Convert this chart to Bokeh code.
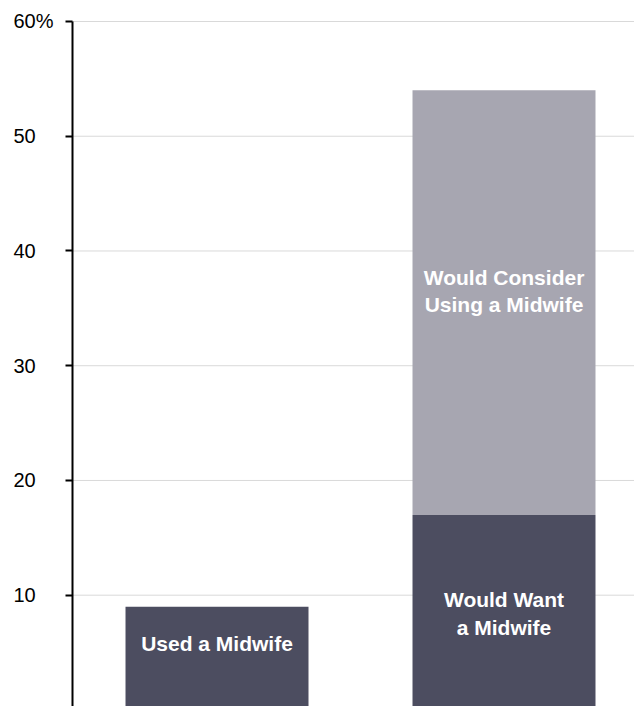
from bokeh.plotting import figure
from bokeh.models import Range1d, FixedTicker
from bokeh.core.properties import value
from bokeh.embed import file_html
from bokeh.resources import INLINE

# ---- data ----
bar_x = [1, 2]
bar_labels = ["Used a Midwife", "Would Want\na Midwife"]
dark_values = [9, 17]            # used / would want
light_values = [0, 37]           # would consider (stacked above, total 54)
light_label = "Would Consider\nUsing a Midwife"
tick_values = [10, 20, 30, 40, 50, 60]
tick_labels = ["10", "20", "30", "40", "50", "60%"]

# ---- layout constants ----
DARK = "#4c4d60"
LIGHT = "#a7a6b1"
X_START, X_END = 0.2456, 2.4547
Y_START, Y_END = 0.30, 61.83
AXIS_X = 0.4965
TICK_LABEL_X = 0.2909
BAR_W = 0.6376
label_y = [5.8, 8.4]
light_label_y = 36.5

p = figure(width=634, height=706, output_backend="svg", toolbar_location=None,
           x_range=Range1d(X_START, X_END), y_range=Range1d(Y_START, Y_END),
           x_axis_location=None, min_border_left=0, min_border_right=0,
           min_border_top=0, min_border_bottom=0)
p.outline_line_color = None
p.background_fill_color = "white"
p.border_fill_color = "white"
p.xgrid.visible = False
p.ygrid.visible = False

yax = p.yaxis[0]
yax.fixed_location = AXIS_X
yax.bounds = (0, tick_values[-1])
yax.ticker = FixedTicker(ticks=tick_values)
yax.axis_line_color = "black"
yax.axis_line_width = 2
yax.major_tick_line_color = "black"
yax.major_tick_line_width = 2
yax.major_tick_out = 7
yax.major_tick_in = 0
yax.minor_tick_line_color = None
yax.major_label_text_color = None

# gridlines from the axis to the right edge
p.segment(x0=[AXIS_X] * len(tick_values), x1=[X_END] * len(tick_values),
          y0=tick_values, y1=tick_values, line_color="#d9d9d9", line_width=1)

# bars
p.vbar(x=bar_x, bottom=0, top=dark_values, width=BAR_W,
       fill_color=DARK, line_color=None)
light_bottom = dark_values
light_top = [d + l for d, l in zip(dark_values, light_values)]
p.vbar(x=bar_x, bottom=light_bottom, top=light_top, width=BAR_W,
       fill_color=LIGHT, line_color=None)

# bar labels
p.text(x=bar_x, y=label_y, text=bar_labels, text_color="white",
       text_font=value("Liberation Sans"), text_font_style="bold",
       text_font_size="21px", text_align="center", text_baseline="middle",
       text_line_height=1.2)
p.text(x=[bar_x[1]], y=[light_label_y], text=[light_label], text_color="white",
       text_font=value("Liberation Sans"), text_font_style="bold",
       text_font_size="21px", text_align="center", text_baseline="middle",
       text_line_height=1.2)

# y tick labels (left aligned)
p.text(x=[TICK_LABEL_X] * len(tick_values), y=tick_values, text=tick_labels,
       text_color="black", text_font=value("Liberation Sans"),
       text_font_size="20px", text_align="left", text_baseline="middle")

open("out.html", "w").write(file_html(p, INLINE))
